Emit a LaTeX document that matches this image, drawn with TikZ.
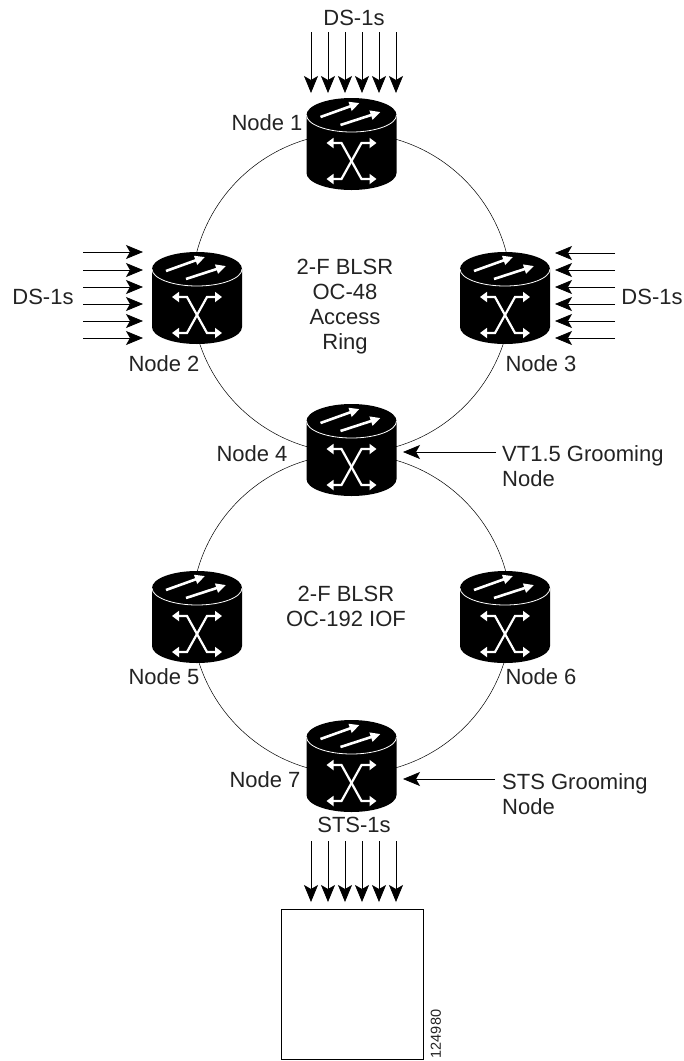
\documentclass[tikz,border=0pt]{standalone}
\usepackage{fontspec}
\setmainfont{Liberation Sans}
\usepackage{xcolor}
\usetikzlibrary{arrows.meta}
\definecolor{LabelGray}{RGB}{35, 35, 35}

\tikzset{
  toparrow/.style={white, line width=2.6pt, -{Triangle[width=9pt,length=10pt]}},
  crossarrow/.style={white, line width=2.2pt, {Triangle[width=10pt,length=7pt]}-{Triangle[width=10pt,length=7pt]}},
  feedline/.style={black, line width=0.7pt, -{Stealth[width=14pt,length=17pt,inset=4pt]}},
  ringline/.style={black, line width=0.5pt},
  lbl/.style={text=LabelGray, font=\fontsize{22}{25}\selectfont, inner sep=0pt, align=center},
  boxline/.style={black, line width=0.7pt}
}

% one switching node: black cylinder with two arrows on top and a cross on the side
\newcommand{\switchnode}[3]{%
  \coordinate (#1) at (#2,#3);
  \begin{scope}[shift={(#2,#3)}]
    \fill[black] (-45,-29) arc[start angle=180, end angle=360, x radius=45, y radius=17]
      -- (45,29) arc[start angle=0, end angle=180, x radius=45, y radius=17] -- cycle;
    \draw[white, line width=0.8pt] (-45,-29) arc[start angle=180, end angle=0, x radius=45, y radius=17];
    \draw[toparrow] (-31,-27) -- (8,-41);
    \draw[toparrow] (-11,-19) -- (29,-32);
    \draw[crossarrow] (-25,-1) -- (-10,-1) -- (10,35) -- (25,35);
    \draw[crossarrow] (25,-1) -- (10,-1) -- (-10,35) -- (-25,35);
  \end{scope}}

\begin{document}
\begin{tikzpicture}[x=1pt, y=-1pt]
    \useasboundingbox (0,0) rectangle (684,1061);

    % Rings
    \draw[ringline] (351.5,293) circle[radius=160];
    \draw[ringline] (351.5,614) circle[radius=160];

    % Nodes
    \switchnode{sw1}{351.5}{144}
    \switchnode{sw2}{197}{298}
    \switchnode{sw3}{505}{298}
    \switchnode{sw4}{351.5}{450}
    \switchnode{sw5}{197}{617}
    \switchnode{sw6}{505}{617}
    \switchnode{sw7}{351.5}{766}

    % Node labels
    \node[lbl] (n1) at (267,123) {Node 1};
    \node[lbl] (n2) at (164,364) {Node 2};
    \node[lbl] (n3) at (541,364) {Node 3};
    \node[lbl] (n4) at (252,454) {Node 4};
    \node[lbl] (n5) at (164,677) {Node 5};
    \node[lbl] (n6) at (541,677) {Node 6};
    \node[lbl] (n7) at (265,780) {Node 7};

    % Ring labels
    \node[lbl] (ring1) at (345,307) {2-F BLSR\\OC-48\\Access\\Ring};
    \node[lbl] (ring2) at (346,606) {2-F BLSR\\OC-192 IOF};

    % Grooming
    \node[lbl, anchor=west, align=left] (vt) at (502,466) {VT1.5 Grooming\\Node};
    \node[lbl, anchor=west, align=left] (sts) at (502,794) {STS Grooming\\Node};
    \coordinate (vtfrom) at (496,452);
    \coordinate (vtto) at (403,452);
    \coordinate (stsfrom) at (495,779);
    \coordinate (ststo) at (403,779);
    \draw[feedline] (vtfrom) -- (vtto);
    \draw[feedline] (stsfrom) -- (ststo);

    % DS-1s top
    \node[lbl] (ds1) at (354,18) {DS-1s};
    \foreach \x in {311,328,345,362,379,396}
      \draw[feedline] (\x,32) -- (\x,93);

    % DS-1s left
    \node[lbl] (ds2) at (43,297) {DS-1s};
    \foreach \y in {252,270,287,304,321,338}
      \draw[feedline] (83,\y) -- (143,\y);

    % DS-1s right
    \node[lbl] (ds3) at (652,297) {DS-1s};
    \foreach \y in {253,270,287,304,321,338}
      \draw[feedline] (615,\y) -- (555,\y);

    % STS-1s into the box
    \node[lbl] (sts1) at (354,825) {STS-1s};
    \foreach \x in {311,328,345,362,379,396}
      \draw[feedline] (\x,841) -- (\x,902);

    \draw[boxline] (281,909) rectangle (423,1059);
    \node[lbl, rotate=90, font=\fontsize{14.5}{16}\selectfont] (code) at (436,1034) {124980};
\end{tikzpicture}
\end{document}
